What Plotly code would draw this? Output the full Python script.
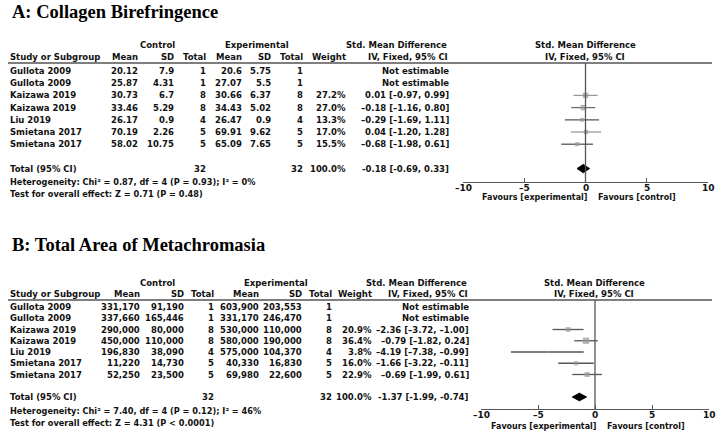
import plotly.graph_objects as go

W, H = 717, 432
FONT = "DejaVu Sans"
SERIF = "Liberation Serif"

# ---------------- data ----------------
studies = ["Gullota 2009", "Gullota 2009", "Kaizawa 2019", "Kaizawa 2019",
           "Liu 2019", "Smietana 2017", "Smietana 2017"]
n_ctrl = [1, 1, 8, 8, 4, 5, 5]
n_exp = [1, 1, 8, 8, 4, 5, 5]

# Panel A: Collagen Birefringence
a_ctrl_mean = ["20.12", "25.87", "30.73", "33.46", "26.17", "70.19", "58.02"]
a_ctrl_sd = ["7.9", "4.31", "6.7", "5.29", "0.9", "2.26", "10.75"]
a_exp_mean = ["20.6", "27.07", "30.66", "34.43", "26.47", "69.91", "65.09"]
a_exp_sd = ["5.75", "5.5", "6.37", "5.02", "0.9", "9.62", "7.65"]
a_weight = [None, None, 27.2, 27.0, 13.3, 17.0, 15.5]
a_smd = [None, None, 0.01, -0.18, -0.29, 0.04, -0.68]
a_lo = [None, None, -0.97, -1.16, -1.69, -1.20, -1.98]
a_hi = [None, None, 0.99, 0.80, 1.11, 1.28, 0.61]
a_total = (-0.18, -0.69, 0.33)
a_het = "Heterogeneity: Chi² = 0.87, df = 4 (P = 0.93); I² = 0%"
a_test = "Test for overall effect: Z = 0.71 (P = 0.48)"

# Panel B: Total Area of Metachromasia
b_ctrl_mean = [331170, 337660, 290000, 450000, 196830, 11220, 52250]
b_ctrl_sd = [91190, 165446, 80000, 110000, 38090, 14730, 23500]
b_exp_mean = [603900, 331170, 530000, 580000, 575000, 40330, 69980]
b_exp_sd = [203553, 246470, 110000, 190000, 104370, 16830, 22600]
b_weight = [None, None, 20.9, 36.4, 3.8, 16.0, 22.9]
b_smd = [None, None, -2.36, -0.79, -4.19, -1.66, -0.69]
b_lo = [None, None, -3.72, -1.82, -7.38, -3.22, -1.99]
b_hi = [None, None, -1.00, 0.24, -0.99, -0.11, 0.61]
b_total = (-1.37, -1.99, -0.74)
b_het = "Heterogeneity: Chi² = 7.40, df = 4 (P = 0.12); I² = 46%"
b_test = "Test for overall effect: Z = 4.31 (P < 0.0001)"

tick_vals = [-10, -5, 0, 5, 10]
tick_text = ["–10", "–5", "0", "5", "10"]


def px(x):
    return x / W


def py(y):
    return 1 - y / H


def ci_text(m, lo, hi, dash="–"):
    def f(v):
        s = f"{abs(v):.2f}"
        return (dash + s) if v < 0 else s
    return f"{f(m)} [{f(lo)}, {f(hi)}]"


ann = []
TS = 8.5


def txt(x, y, s, anchor="right", size=TS, fam=FONT, color="#111", bold=True,
        xref="paper"):
    ann.append(dict(x=(px(x) if xref == "paper" else x), y=py(y), xref=xref, yref="paper",
                    text=(f"<b>{s}</b>" if bold else s),
                    showarrow=False, xanchor=anchor, yanchor="middle",
                    font=dict(family=fam, size=size, color=color)))


fig = go.Figure()
shapes = []

panels = [
    dict(name="A: Collagen Birefringence", title_y=12, h1=45, h2=57, line=63,
         row0=71, step=12.2, total_idx=8, het_y=182, test_y=194,
         cols=dict(cm=140, csd=176, cn=208, em=244, esd=273, en=305, w=348, ci=451),
         ctrl_c=157, exp_c=257,
         fx0=463, fx1=708, zc=585, axis_y=182, tick_y=188, fav_y=198,
         cm=a_ctrl_mean, csd=a_ctrl_sd, em=a_exp_mean, esd=a_exp_sd,
         w=a_weight, smd=a_smd, lo=a_lo, hi=a_hi, tot=a_total,
         het=a_het, test=a_test, xa="x", ya="y",
         ci_col=["#9a9a9a", "#9a9a9a", "#9a9a9a", "#6e6e6e", "#555555", "#9a9a9a", "#555555"]),
    dict(name="B: Total Area of Metachromasia", title_y=245, h1=283, h2=294, line=300,
         row0=307, step=11.25, total_idx=8, het_y=411, test_y=423,
         cols=dict(cm=142, csd=186, cn=216, em=261, esd=304, en=334, w=374, ci=471),
         ctrl_c=157, exp_c=276,
         fx0=481, fx1=709, zc=594, axis_y=409, tick_y=415, fav_y=426,
         cm=[f"{v:,}" for v in b_ctrl_mean], csd=[f"{v:,}" for v in b_ctrl_sd],
         em=[f"{v:,}" for v in b_exp_mean], esd=[f"{v:,}" for v in b_exp_sd],
         w=b_weight, smd=b_smd, lo=b_lo, hi=b_hi, tot=b_total,
         het=b_het, test=b_test, xa="x2", ya="y2",
         ci_col=["#555555"] * 7),
]

for pi, p in enumerate(panels):
    c = p["cols"]
    sfx = "" if pi == 0 else "2"
    txt(10, p["title_y"], p["name"], anchor="left", size=18.5, fam=SERIF, color="#000")
    # header
    txt(p["ctrl_c"], p["h1"], "Control", anchor="center")
    txt(p["exp_c"], p["h1"], "Experimental", anchor="center")
    txt(c["ci"] - 2, p["h1"], "Std. Mean Difference")
    txt(p["zc"], p["h1"], "Std. Mean Difference", anchor="center")
    txt(8, p["h2"], "Study or Subgroup", anchor="left")
    for key, lab in [("cm", "Mean"), ("csd", "SD"), ("cn", "Total"), ("em", "Mean"),
                     ("esd", "SD"), ("en", "Total"), ("w", "Weight")]:
        txt(c[key], p["h2"], lab)
    txt(c["ci"] - 1, p["h2"], "IV, Fixed, 95% CI")
    txt(p["zc"], p["h2"], "IV, Fixed, 95% CI", anchor="center")
    shapes.append(dict(type="line", xref="paper", yref="paper", x0=px(8), x1=px(712),
                       y0=py(p["line"]), y1=py(p["line"]), line=dict(color="#555", width=1.3)))
    # rows
    for i, s in enumerate(studies):
        y = p["row0"] + p["step"] * i
        txt(8, y, s, anchor="left")
        txt(c["cm"], y, p["cm"][i])
        txt(c["csd"], y, p["csd"][i])
        txt(c["cn"], y, str(n_ctrl[i]))
        txt(c["em"], y, p["em"][i])
        txt(c["esd"], y, p["esd"][i])
        txt(c["en"], y, str(n_exp[i]))
        if p["w"][i] is not None:
            txt(c["w"], y, f"{p['w'][i]:.1f}%")
            txt(c["ci"], y, ci_text(p["smd"][i], p["lo"][i], p["hi"][i]))
        else:
            txt(c["ci"], y, "Not estimable")
    yt = p["row0"] + p["step"] * p["total_idx"]
    txt(8, yt, "Total (95% CI)", anchor="left")
    txt(c["cn"], yt, str(sum(n_ctrl)))
    txt(c["en"], yt, str(sum(n_exp)))
    txt(c["w"], yt, "100.0%")
    txt(c["ci"], yt, ci_text(*p["tot"], dash="-"))
    txt(8, p["het_y"], p["het"], anchor="left", size=8.2)
    txt(8, p["test_y"], p["test"], anchor="left", size=8.2)
    txt(p["zc"] + 4, p["fav_y"], "Favours [experimental]", anchor="right", size=8)
    txt(p["zc"] + 11, p["fav_y"], "Favours [control]", anchor="left", size=8)
    # tick labels
    for tv, tt in zip(tick_vals, tick_text):
        txt(tv, p["tick_y"], tt, anchor="center", size=9, xref="x" + sfx)

    # forest plot traces
    idx = [i for i in range(len(studies)) if p["smd"][i] is not None]
    for i in idx:
        fig.add_trace(go.Scatter(x=[p["lo"][i], p["hi"][i]], y=[i, i], mode="lines",
                                 line=dict(color=p["ci_col"][i], width=1.3),
                                 xaxis=p["xa"], yaxis=p["ya"], showlegend=False,
                                 hoverinfo="skip"))
    fig.add_trace(go.Scatter(x=[p["smd"][i] for i in idx], y=idx, mode="markers",
                             marker=dict(symbol="square", color="#999999",
                                         size=[p["w"][i] ** 0.5 * 1.05 for i in idx],
                                         line=dict(width=0)),
                             xaxis=p["xa"], yaxis=p["ya"], showlegend=False))
    m, lo, hi = p["tot"]
    k = p["total_idx"]
    hh = 0.34
    fig.add_trace(go.Scatter(x=[lo, m, hi, m, lo], y=[k, k - hh, k, k + hh, k],
                             mode="lines", fill="toself", fillcolor="#000",
                             line=dict(color="#000", width=1),
                             xaxis=p["xa"], yaxis=p["ya"], showlegend=False))
    # axes
    top_idx = (p["line"] - p["row0"]) / p["step"]
    bot_idx = (p["axis_y"] - p["row0"]) / p["step"]
    fig.update_layout(**{
        "xaxis" + sfx: dict(domain=[px(p["fx0"]), px(p["fx1"])], range=[-10, 10],
                            anchor="y" + sfx, showgrid=False, zeroline=False,
                            showline=True, linecolor="#555", linewidth=1,
                            ticks="inside", ticklen=4, tickcolor="#555",
                            tickvals=tick_vals, showticklabels=False),
        "yaxis" + sfx: dict(domain=[py(p["axis_y"]), py(p["line"])],
                            range=[bot_idx, top_idx], anchor="x" + sfx,
                            visible=False, showgrid=False, zeroline=False),
    })
    shapes.append(dict(type="line", xref="x" + sfx, yref="y" + sfx + " domain",
                       x0=0, x1=0, y0=0, y1=1, line=dict(color="#555", width=1.3)))

fig.update_layout(width=W, height=H, margin=dict(l=0, r=0, t=0, b=0),
                  paper_bgcolor="white", plot_bgcolor="white",
                  annotations=ann, shapes=shapes, showlegend=False)
fig.write_html("out.html", config={"displayModeBar": False},
               post_script="document.body.style.margin='0';document.body.style.overflow='hidden';")
